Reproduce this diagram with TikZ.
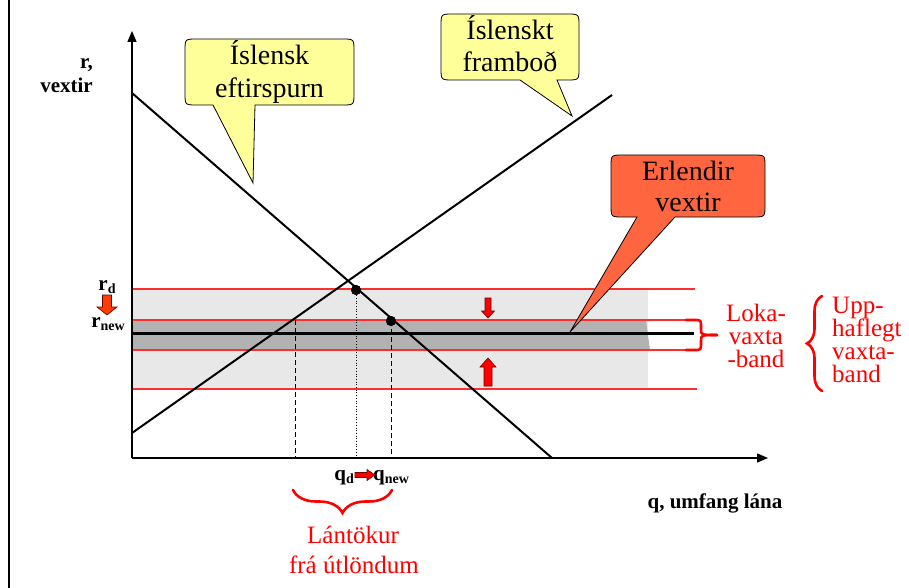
\documentclass[tikz,border=0pt]{standalone}
\usepackage{fontspec}
\setmainfont{Liberation Serif}
\usetikzlibrary{arrows.meta,decorations.pathreplacing}

\definecolor{calloutyellow}{RGB}{255,255,153}
\definecolor{calloutorange}{RGB}{255,102,64}
\definecolor{bandlight}{RGB}{232,232,232}
\definecolor{banddark}{RGB}{178,178,178}
\definecolor{bandred}{RGB}{255,45,45}
\definecolor{arrowedge}{RGB}{110,0,0}
\definecolor{rarrow}{RGB}{255,60,0}

\begin{document}
\begin{tikzpicture}[x=1pt,y=-1pt,
  curve/.style={line width=2pt},
  axisline/.style={line width=1.3pt,-{Triangle[length=11pt,width=9pt]}},
  redline/.style={bandred,line width=1.1pt},
  calloutbox/.style={draw=black,line width=0.8pt},
  bubbletext/.style={font=\fontsize{28}{32}\selectfont,anchor=base,inner sep=0pt},
  redtext/.style={text=red,font=\fontsize{25}{25}\selectfont,inner sep=0pt},
  axistext/.style={font=\fontsize{21}{21}\selectfont\bfseries,inner sep=0pt},
  redbrace/.style={red,line width=2.6pt,line cap=round,decorate,decoration={brace,amplitude=#1}},
  blockarrow/.style={fill=red,draw=arrowedge,line width=0.6pt},
  marker/.style={circle,fill=black,inner sep=0pt,minimum size=10pt},
  guide/.style={line width=1pt}
]
\useasboundingbox (0,0) rectangle (909,588);

% left frame line
\draw[line width=1.4pt] (9,0) -- (9,588);

% bands
\fill[bandlight] (132,289) rectangle (648,389);
\fill[banddark] (132,320) -- (646,320) -- (650,350) -- (132,350) -- cycle;

% red lines
\draw[redline] (132,289) -- (695,289);
\draw[redline] (132,320) -- (688,320);
\draw[redline] (132,350) -- (688,350);
\draw[redline] (132,389) -- (697,389);

% black world-rate line
\coordinate (w0) at (132,333);
\coordinate (w1) at (694,333);
\draw[line width=3pt] (w0) -- (w1);

% guide lines
\node[marker] (e0) at (356,290) {};
\node[marker] (e1) at (391,321) {};
\coordinate (g0) at (356,458);
\coordinate (g1) at (391,458);
\coordinate (s0) at (295,320);
\coordinate (s1) at (295,458);
\draw[line width=0.7pt,dotted] (e0) -- (g0);
\draw[guide,dashed,dash pattern=on 5pt off 3pt] (e1.center) -- (g1);
\draw[guide,dashed,dash pattern=on 5pt off 3pt] (s0) -- (s1);

% demand and supply
\coordinate (d0) at (132,93);
\coordinate (d1) at (552,458);
\coordinate (u0) at (132,433);
\coordinate (u1) at (612,95);
\draw[curve] (d0) -- (d1);
\draw[curve] (u0) -- (u1);
\node[marker] at (e0) {};
\node[marker] at (e1) {};

% axes
\coordinate (o) at (132,458);
\coordinate (ytop) at (132,31);
\coordinate (xend) at (768,458);
\draw[axisline] (o) -- (ytop);
\draw[axisline] (o) -- (xend);

% axis labels
\node[axistext,anchor=base east] (rlab) at (93,69) {r,};
\node[axistext,anchor=base east] (vlab) at (93,93) {vextir};
\node[axistext,anchor=base] (qlab) at (715,508) {q, umfang lána};

% r_d and r_new
\node[axistext,anchor=base] (rd) at (107,290) {r\raisebox{-0.35ex}{\fontsize{14}{14}\selectfont d}};
\node[axistext,anchor=base] (rnew) at (108,327) {r\raisebox{-0.35ex}{\fontsize{14}{14}\selectfont new}};
\draw[fill=rarrow,draw=arrowedge,line width=0.6pt] (102.5,295) -- (111.5,295) -- (111.5,307) -- (117,307) -- (107,315) -- (97,307) -- (102.5,307) -- cycle;

% q_d and q_new
\node[axistext,anchor=base east] (qd) at (354,480) {q\raisebox{-0.35ex}{\fontsize{14}{14}\selectfont d}};
\node[axistext,anchor=base west] (qnew) at (373,480) {q\raisebox{-0.35ex}{\fontsize{14}{14}\selectfont new}};
\draw[blockarrow] (355,472.5) -- (367,472.5) -- (367,469.5) -- (375,475) -- (367,480.5) -- (367,477.5) -- (355,477.5) -- cycle;

% band arrows
\draw[blockarrow] (485,298) -- (491,298) -- (491,311) -- (494.5,311) -- (488,318) -- (481.5,311) -- (485,311) -- cycle;
\draw[blockarrow] (484,386) -- (492,386) -- (492,367) -- (496,367) -- (488,358) -- (480,367) -- (484,367) -- cycle;

% callout 1: Islensk eftirspurn
\draw[calloutbox,fill=calloutyellow] (213,105) -- (253,183) -- (255,105) -- (342,105) .. controls (354,105) .. (354,93) -- (354,51) .. controls (354,39) .. (342,39) -- (197,39) .. controls (185,39) .. (185,51) -- (185,93) .. controls (185,105) .. (197,105) -- cycle;
\node[bubbletext] (c1a) at (269.5,65) {Íslensk};
\node[bubbletext] (c1b) at (269.5,98) {eftirspurn};

% callout 2: Islenskt frambod
\draw[calloutbox,fill=calloutyellow] (520,80) -- (572,116) -- (557,80) -- (567,80) .. controls (579,80) .. (579,68) -- (579,26) .. controls (579,14) .. (567,14) -- (453,14) .. controls (441,14) .. (441,26) -- (441,68) .. controls (441,80) .. (453,80) -- cycle;
\node[bubbletext] (c2a) at (510,40) {Íslenskt};
\node[bubbletext] (c2b) at (510,72) {framboð};

% callout 3: Erlendir vextir
\draw[calloutbox,fill=calloutorange] (637,217) -- (570,332) -- (675,217) -- (753,217) .. controls (765,217) .. (765,205) -- (765,167) .. controls (765,155) .. (753,155) -- (623,155) .. controls (611,155) .. (611,167) -- (611,205) .. controls (611,217) .. (623,217) -- cycle;
\node[bubbletext] (c3a) at (688,180) {Erlendir};
\node[bubbletext] (c3b) at (688,211) {vextir};

% small brace (Lokavaxtaband)
\coordinate (lb0) at (686,320);
\coordinate (lb1) at (686,350);
\coordinate (lbt) at (717,335);
\draw[red,line width=2.6pt,line cap=round] (lb0) -- (694,320) .. controls (701,320) .. (701,327) -- (701,329) .. controls (701,335) .. (lbt);
\draw[red,line width=2.6pt,line cap=round] (lb1) -- (694,350) .. controls (701,350) .. (701,343) -- (701,341) .. controls (701,335) .. (lbt);
\node[redtext,anchor=base] (l1) at (756,321) {Loka-};
\node[redtext,anchor=base] (l2) at (756,344) {vaxta};
\node[redtext,anchor=base] (l3) at (756,367) {-band};

% big brace (Upphaflegt vaxtaband)
\coordinate (ub0) at (822,391);
\coordinate (ub1) at (822,296);
\draw[redbrace=15pt] (ub0) -- (ub1);
\node[redtext,anchor=base west] (u1) at (832,313) {Upp-};
\node[redtext,anchor=base west] (u2) at (832,336) {haflegt};
\node[redtext,anchor=base west] (u3) at (832,359) {vaxta-};
\node[redtext,anchor=base west] (u4) at (832,382) {band};

% bottom brace (Lantokur)
\coordinate (bb0) at (392,490);
\coordinate (bb1) at (293,490);
\draw[redbrace=23pt] (bb0) -- (bb1);
\node[redtext,anchor=base] (b1) at (353,543) {Lántökur};
\node[redtext,anchor=base] (b2) at (354,573) {frá útlöndum};
\end{tikzpicture}
\end{document}
